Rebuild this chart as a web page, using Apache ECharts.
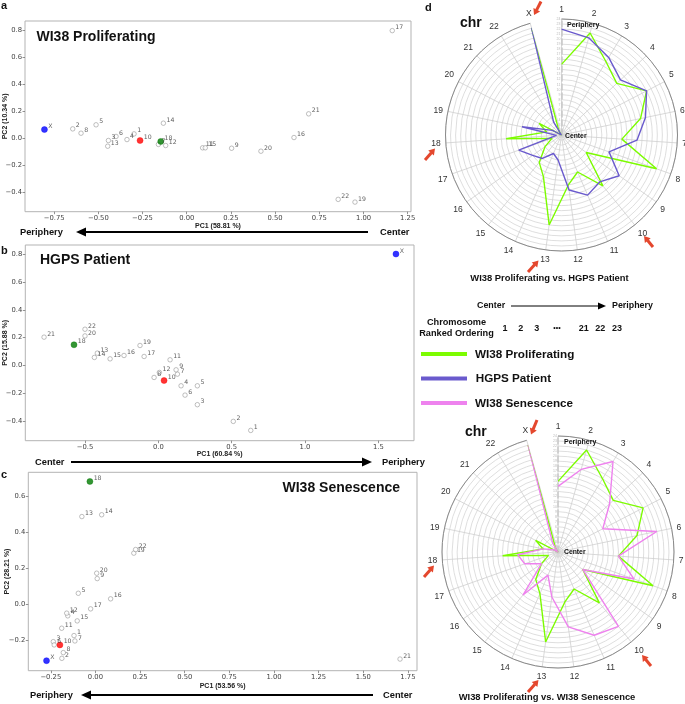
<!DOCTYPE html>
<html><head><meta charset="utf-8">
<script src="https://cdn.jsdelivr.net/npm/echarts/dist/echarts.min.js"></script>
<style>html,body{margin:0;padding:0;background:#fff}#c{width:685px;height:704px}</style>
</head><body><div id="c"></div>
<script>
// ---------------- DATA ----------------
const chrNames = ['1','2','3','4','5','6','7','8','9','10','11','12','13','14','15','16','17','18','19','20','21','22','X'];

// Panel a: WI38 Proliferating PCA
const procPC1 = [-0.298,-0.645,-0.443,-0.338,-0.513,-0.400,-0.160,-0.598,0.254,-0.264,0.090,-0.119,-0.447,-0.132,0.105,0.607,1.163,-0.147,0.952,0.420,0.690,0.857,-0.805];
const procPC2 = [0.032,0.069,-0.017,-0.010,0.099,0.013,-0.046,0.037,-0.074,-0.017,-0.071,-0.054,-0.059,0.111,-0.071,0.005,0.795,-0.024,-0.472,-0.096,0.180,-0.452,0.064];

// Panel b: HGPS Patient PCA
const hgpsPC1 = [0.630,0.511,0.266,0.155,0.266,0.182,0.130,-0.029,0.121,0.039,0.080,0.007,-0.416,-0.436,-0.329,-0.234,-0.097,-0.575,-0.125,-0.500,-0.779,-0.500,1.620];
const hgpsPC2 = [-0.467,-0.402,-0.282,-0.146,-0.146,-0.213,-0.062,-0.086,-0.031,-0.108,0.041,-0.050,0.089,0.058,0.048,0.072,0.065,0.149,0.144,0.213,0.204,0.261,0.802];

// Panel c: WI38 Senescence PCA
const senPC1 = [-0.120,-0.188,-0.236,-0.155,-0.096,-0.231,-0.115,-0.180,0.010,-0.199,-0.189,-0.161,-0.076,0.035,-0.102,0.085,-0.027,-0.031,0.215,0.007,1.706,0.225,-0.274];
const senPC2 = [-0.175,-0.302,-0.209,-0.065,0.061,-0.227,-0.205,-0.270,0.143,-0.227,-0.134,-0.050,0.489,0.499,-0.093,0.030,-0.026,0.685,0.285,0.173,-0.306,0.305,-0.315];

// Panel d: chromosome ranked ordering (1 = center ... 23 = periphery)
const procRank = [15,22,18,16,20,17,13,21,7,14,9,11,19,10,8,5,3,12,4,6,1,2,23];
const hgpsRank = [22,21,19,17,20,18,16,11,15,13,14,12,6,5,7,8,10,2,9,3,1,4,23];
const senRank  = [14,18,22,15,11,21,13,17,7,20,19,16,10,6,12,5,8,9,4,2,1,3,23];

// Tick labels
const ticksA_X = [-0.75,-0.5,-0.25,0,0.25,0.5,0.75,1.0,1.25];
const ticksA_Y = [-0.4,-0.2,0.0,0.2,0.4,0.6,0.8];
const ticksB_X = [-0.5,0.0,0.5,1.0,1.5];
const ticksB_Y = [-0.4,-0.2,0.0,0.2,0.4,0.6,0.8];
const ticksC_X = [-0.25,0,0.25,0.5,0.75,1.0,1.25,1.5,1.75];
const ticksC_Y = [-0.2,0.0,0.2,0.4,0.6];

const highlightChr = {'X':'#0000ff','10':'#ff0000','18':'#007a00'};
const GREEN = '#7cfc00', BLUE = '#6a5acd', PINK = '#ee82ee';

// ---------------- HELPERS ----------------
const minus = v => (v < 0 ? '\u2212' : '');
const fmt2 = v => minus(v) + Math.abs(v).toFixed(2);
const fmt1 = v => minus(v) + Math.abs(v).toFixed(1);

function scatterData(pc1, pc2){
  return chrNames.map((n,i)=>{
    const c = highlightChr[n];
    return {name:n, value:[pc1[i],pc2[i]], symbolSize: c?6:4.5,
      itemStyle: c ? {color:c, borderColor:c, borderWidth:0.5} : {color:'#fff', borderColor:'#8c8c8c', borderWidth:0.7},
      z: c?3:2};
  });
}
const nameStyle = {fontFamily:'Liberation Sans', fontWeight:'bold', fontSize:7, color:'#222'};
function xAx(gi, min, max, ticks, f, name, gap){
  return {type:'value', gridIndex:gi, min, max, name, nameLocation:'middle', nameGap:gap, nameMoveOverlap:false,
    nameTextStyle:nameStyle,
    axisLine:{show:false, onZero:false}, splitLine:{show:false},
    axisTick:{show:true, customValues:ticks, length:2.5, lineStyle:{color:'#666', width:0.7}},
    axisLabel:{customValues:ticks, formatter:f, fontFamily:'DejaVu Sans', fontSize:6.8, color:'#444', margin:3}};
}
function yAx(gi, min, max, ticks, f, name, gap){
  return {type:'value', gridIndex:gi, min, max, name, nameLocation:'middle', nameGap:gap, nameRotate:90, nameMoveOverlap:false,
    nameTextStyle:nameStyle,
    axisLine:{show:false, onZero:false}, splitLine:{show:false},
    axisTick:{show:true, customValues:ticks, length:2.5, lineStyle:{color:'#666', width:0.7}},
    axisLabel:{customValues:ticks, formatter:f, fontFamily:'DejaVu Sans', fontSize:6.8, color:'#444', margin:3}};
}
function scatterSeries(gi, pc1, pc2){
  return {type:'scatter', xAxisIndex:gi, yAxisIndex:gi, data:scatterData(pc1,pc2), silent:true,
    label:{show:true, formatter:'{b}', position:'right', distance:0.5, offset:[0,-3],
      fontFamily:'DejaVu Sans', fontSize:6.2, color:'#333'}};
}
function closed(r){ const d = r.map((v,i)=>[v,i]); d.push([r[0],0]); return d; }
function radarLine(pi, ranks, color){
  return {type:'line', coordinateSystem:'polar', polarIndex:pi, data:closed(ranks), symbol:'none',
    silent:true, lineStyle:{color, width:1.4}, z:3};
}
function angleAx(pi){
  return {polarIndex:pi, type:'category', data:chrNames, startAngle:90, clockwise:true, boundaryGap:false,
    axisLine:{show:true, lineStyle:{color:'#8a8a8a', width:1}}, axisTick:{show:false},
    axisLabel:{fontFamily:'Liberation Sans', fontSize:8.5, color:'#333', margin:5},
    splitLine:{show:true, lineStyle:{color:'#cfcfcf', width:0.8}}};
}
function radiusAx(pi){
  return {polarIndex:pi, type:'value', min:1, max:24, interval:1,
    axisLine:{show:true, lineStyle:{color:'#c8c8c8', width:1.5, type:'dashed'}}, axisTick:{show:false},
    axisLabel:{fontSize:3.5, color:'#bbb', margin:1},
    splitLine:{show:true, lineStyle:{color:'#d6d6d6', width:0.8}}};
}
function T(x,y,s,font,opt){
  opt = opt||{};
  return {type:'text', x, y, z:10, silent:true, style:Object.assign({text:s, fill:'#111', font, align:'left', verticalAlign:'middle'}, opt)};
}
function arrow(x1,y1,x2,y2,color,lw,hl,hw){
  const dx=x2-x1, dy=y2-y1, L=Math.hypot(dx,dy), ux=dx/L, uy=dy/L, px=-uy, py=ux;
  const bx=x2-ux*hl, by=y2-uy*hl;
  return {type:'group', silent:true, z:10, children:[
    {type:'line', shape:{x1,y1,x2:bx+ux*0.5,y2:by+uy*0.5}, style:{stroke:color, lineWidth:lw}},
    {type:'polygon', shape:{points:[[x2,y2],[bx+px*hw/2,by+py*hw/2],[bx-px*hw/2,by-py*hw/2]]}, style:{fill:color}}
  ]};
}
const BF = s => 'bold '+s+'px "Liberation Sans", Arial, sans-serif';
const RED = '#e4472d';

const graphics = [
  T(1,6,'a',BF(11)), T(1,251,'b',BF(11)), T(1,475,'c',BF(11)), T(425,8,'d',BF(11)),
  T(36.5,37,'WI38 Proliferating',BF(14)),
  T(40,260.5,'HGPS Patient',BF(14)),
  T(282.5,488.5,'WI38 Senescence',BF(14)),
  T(20,232,'Periphery',BF(9.3)), arrow(368,232,76,232,'#000',1.8,10,9), T(380,232,'Center',BF(9.3)),
  T(35,462,'Center',BF(9.3)), arrow(71,462,372,462,'#000',1.8,10,9), T(382,462,'Periphery',BF(9.3)),
  T(30,695,'Periphery',BF(9.3)), arrow(373,695,81,695,'#000',1.8,10,9), T(383,695,'Center',BF(9.3)),
  T(460,23,'chr',BF(14)), T(465,432,'chr',BF(14)),
  T(567,25,'Periphery',BF(7)), T(565,136,'Center',BF(6.8)),
  T(564,442,'Periphery',BF(7)), T(564,552.5,'Center',BF(6.8)),
  T(549.5,278.5,'WI38 Proliferating vs. HGPS Patient',BF(9.4),{align:'center'}),
  T(547,697.5,'WI38 Proliferating vs. WI38 Senescence',BF(9.4),{align:'center'}),
  T(477,306,'Center',BF(8.9)), arrow(511,306,606,306,'#000',1,8,7), T(612,306,'Periphery',BF(8.9)),
  T(456.5,322,'Chromosome',BF(9.2),{align:'center'}), T(456.5,333.5,'Ranked Ordering',BF(9.2),{align:'center'}),
  T(505,329,'1',BF(9),{align:'center'}), T(520.7,329,'2',BF(9),{align:'center'}), T(536.7,329,'3',BF(9),{align:'center'}),
  T(557,328,'\u2022\u2022\u2022',BF(7),{align:'center'}),
  T(583.7,329,'21',BF(9),{align:'center'}), T(600.3,329,'22',BF(9),{align:'center'}), T(617,329,'23',BF(9),{align:'center'}),
  {type:'line', silent:true, shape:{x1:421,y1:354,x2:467,y2:354}, style:{stroke:GREEN, lineWidth:4}},
  {type:'line', silent:true, shape:{x1:421,y1:378.5,x2:467,y2:378.5}, style:{stroke:BLUE, lineWidth:4}},
  {type:'line', silent:true, shape:{x1:421,y1:403,x2:467,y2:403}, style:{stroke:PINK, lineWidth:4}},
  T(475,355,'WI38 Proliferating',BF(11.7)),
  T(475.7,379,'HGPS Patient',BF(11.7)),
  T(475,403.5,'WI38 Senescence',BF(11.7)),
  arrow(541,1.5,534,15,RED,3,6,7.5), arrow(425,160,435,148.5,RED,3,6,7.5),
  arrow(653,247,644,236,RED,3,6,7.5), arrow(528,272,538.5,260.5,RED,3,6,7.5),
  arrow(537,420,531,434.5,RED,3,6,7.5), arrow(424,577,434,565.5,RED,3,6,7.5),
  arrow(651,666,642,655,RED,3,6,7.5), arrow(528,692,538.5,680,RED,3,6,7.5)
];

const gridBase = {show:true, borderColor:'#b3b3b3', borderWidth:1, containLabel:false, outerBoundsMode:'none'};
const option = {
  animation:false,
  backgroundColor:'#fff',
  grid:[
    Object.assign({left:25, top:21, width:386, height:190.7}, gridBase),
    Object.assign({left:25.3, top:245, width:388.7, height:195.7}, gridBase),
    Object.assign({left:28.3, top:472.3, width:388.7, height:198.4}, gridBase)
  ],
  xAxis:[
    xAx(0,-0.915,1.269,ticksA_X,fmt2,'PC1 (58.81 %)',11),
    xAx(1,-0.907,1.743,ticksB_X,fmt1,'PC1 (60.84 %)',10),
    xAx(2,-0.376,1.801,ticksC_X,fmt2,'PC1 (53.56 %)',12)
  ],
  yAxis:[
    yAx(0,-0.543,0.866,ticksA_Y,fmt1,'PC2 (10.34 %)',16.5),
    yAx(1,-0.541,0.867,ticksB_Y,fmt1,'PC2 (15.88 %)',16.5),
    yAx(2,-0.371,0.736,ticksC_Y,fmt1,'PC2 (28.21 %)',18)
  ],
  polar:[{center:[561.5,135], radius:116},{center:[558,552], radius:116}],
  angleAxis:[angleAx(0), angleAx(1)],
  radiusAxis:[radiusAx(0), radiusAx(1)],
  series:[
    scatterSeries(0, procPC1, procPC2),
    scatterSeries(1, hgpsPC1, hgpsPC2),
    scatterSeries(2, senPC1, senPC2),
    radarLine(0, procRank, GREEN),
    radarLine(0, hgpsRank, BLUE),
    radarLine(1, procRank, GREEN),
    radarLine(1, senRank, PINK)
  ],
  graphic:graphics
};
const chart = echarts.init(document.getElementById('c'), null, {renderer:'canvas'});
chart.setOption(option);
</script>
</body></html>
